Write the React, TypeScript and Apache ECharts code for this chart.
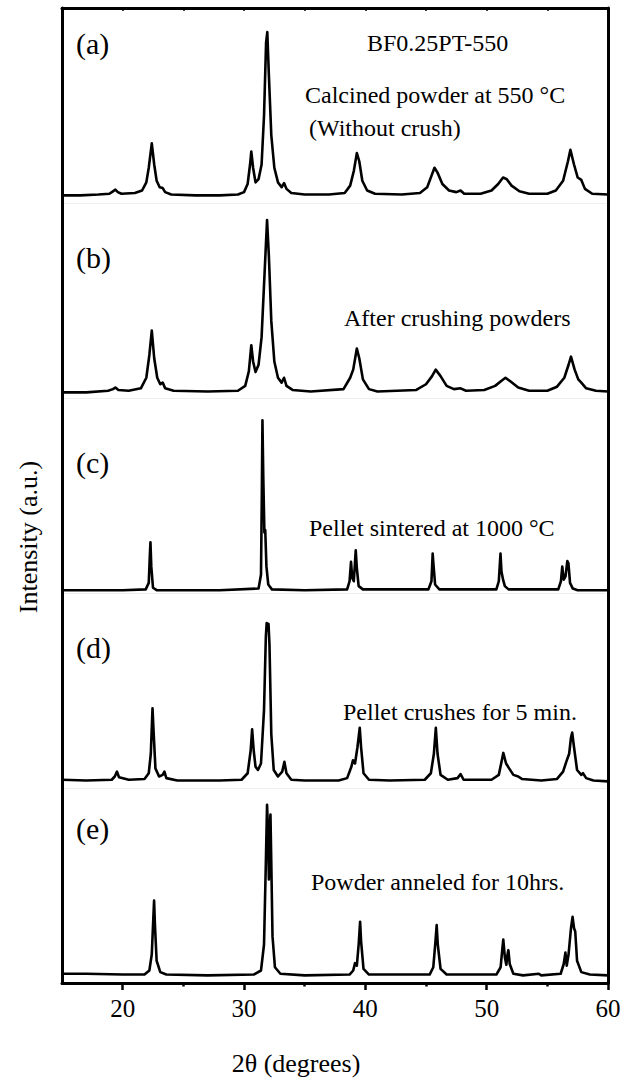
import React, { useEffect, useRef } from "react";
import * as echarts from "echarts";

// 2θ range and tick values
const X_MIN = 15;
const X_MAX = 60;
const MAJOR_TICKS = [20, 30, 40, 50, 60];
const MINOR_TICKS = [25, 35, 45, 55];
const TOP_TICKS = [20, 25, 30, 35, 40, 45, 50, 55];

// Panel labels and annotations
const PANEL_LABELS = ["(a)", "(b)", "(c)", "(d)", "(e)"];
const SAMPLE_NAME = "BF0.25PT-550";
const ANNOTATIONS = [
  ["Calcined powder at 550 °C", " (Without crush)"],
  ["After crushing powders"],
  ["Pellet sintered at 1000 °C"],
  ["Pellet crushes for 5 min."],
  ["Powder anneled for 10hrs."],
];

// XRD patterns, [2θ, intensity a.u.]
const patternA = [
  [15, 1], [16.5, 1], [18.0, 1.5], [18.9, 2], [19.2, 3.5], [19.4, 4.5], [19.6, 3], [19.9, 2], [21.0, 2.5], [21.6, 4],
  [21.95, 9], [22.15, 18], [22.4, 33], [22.6, 20], [22.8, 10], [23.05, 6], [23.3, 5.5], [23.5, 3], [24.0, 1.5], [26, 1],
  [28, 1], [29.5, 1.5], [30.0, 3], [30.3, 8], [30.5, 20], [30.6, 28], [30.75, 18], [30.95, 9], [31.2, 11], [31.45, 20],
  [31.65, 50], [31.82, 95], [31.92, 101.5], [32.05, 75], [32.25, 38], [32.5, 18], [32.8, 9], [33.1, 6], [33.3, 8.6], [33.5, 5],
  [33.9, 2.5], [35, 1.5], [37, 1.5], [38.3, 2.5], [38.75, 7], [39.05, 16], [39.3, 27], [39.5, 22], [39.75, 10], [40.15, 4],
  [40.8, 2], [43, 1.5], [44.5, 2.5], [45.1, 6], [45.45, 13], [45.7, 18], [45.95, 15], [46.35, 8], [46.9, 4], [47.5, 3],
  [47.85, 4], [48.15, 2], [49.5, 2], [50.4, 4], [50.95, 8], [51.35, 12], [51.65, 11], [52.05, 7], [52.7, 3.5], [53.5, 2],
  [55, 2], [55.7, 4], [56.3, 10], [56.7, 22], [56.9, 29], [57.2, 20], [57.5, 12], [57.8, 10.5], [58.1, 5], [58.7, 2],
  [60, 1.5],
];
const patternB = [
  [15, 1], [17, 1], [18.8, 2], [19.2, 3], [19.4, 4], [19.65, 2.5], [20.5, 2], [21.5, 3.5], [21.95, 10], [22.2, 24],
  [22.4, 39], [22.6, 22], [22.85, 10], [23.1, 6], [23.3, 7], [23.5, 3.5], [24.2, 2], [27, 1.5], [29.5, 2], [30.1, 5],
  [30.4, 14], [30.6, 30], [30.75, 20], [30.95, 13.5], [31.2, 18], [31.45, 35], [31.7, 75], [31.9, 107], [32.05, 85], [32.25, 45],
  [32.5, 20], [32.8, 10], [33.1, 7], [33.3, 10], [33.5, 5], [34, 2.5], [35.5, 1.5], [38.2, 3], [38.75, 10], [39.0, 15],
  [39.3, 28], [39.5, 22], [39.8, 9], [40.3, 3], [41, 1.5], [44.2, 2.5], [45.0, 6], [45.5, 11], [45.8, 15], [46.2, 11],
  [46.7, 5], [47.3, 3], [47.85, 3.5], [48.3, 2], [49.8, 2.5], [50.7, 5], [51.2, 8], [51.55, 10], [52.0, 7.5], [52.6, 4],
  [53.5, 2], [55, 2], [55.8, 4.5], [56.4, 10], [56.75, 18], [56.95, 23], [57.25, 15], [57.55, 9], [57.8, 7], [58.2, 3.5],
  [59, 2], [60, 1.5],
];
const patternC = [
  [15, 0.5], [20, 0.5], [21.9, 1], [22.15, 5], [22.24, 22], [22.29, 30], [22.36, 15], [22.5, 2], [22.8, 0.5], [28, 0.5],
  [31.2, 1.5], [31.4, 10], [31.47, 60], [31.52, 105], [31.59, 70], [31.68, 36], [31.75, 37.5], [31.85, 15], [32.0, 4], [32.3, 1],
  [35, 0.5], [38.5, 1], [38.7, 6], [38.82, 18], [38.92, 8], [39.05, 6], [39.15, 18], [39.21, 25], [39.3, 14], [39.45, 3],
  [39.8, 1], [45.2, 1], [45.45, 6], [45.55, 23], [45.62, 16], [45.75, 4], [46.1, 1], [50.8, 1], [51.0, 6], [51.14, 23],
  [51.22, 12], [51.35, 7], [51.5, 3], [51.8, 1], [55.9, 1], [56.12, 6], [56.23, 15], [56.35, 7], [56.5, 9], [56.65, 18.5],
  [56.74, 17], [56.87, 5], [57.1, 1.5], [57.5, 0.5], [60, 0.5],
];
const patternD = [
  [15, 2], [17, 1.5], [19.1, 2], [19.35, 4], [19.53, 7], [19.7, 3.5], [20.5, 2], [21.8, 2.5], [22.15, 6], [22.32, 18],
  [22.46, 46], [22.56, 30], [22.7, 9], [23.0, 4], [23.3, 5], [23.44, 7], [23.6, 3], [24.5, 1.5], [28, 1.5], [29.8, 2],
  [30.3, 6], [30.55, 20], [30.67, 33], [30.8, 20], [30.95, 10], [31.15, 8], [31.4, 12], [31.65, 45], [31.8, 90], [31.87, 98.5],
  [31.95, 94], [32.02, 98], [32.1, 85], [32.25, 30], [32.45, 8], [32.8, 4], [33.15, 7], [33.33, 13], [33.5, 6], [33.9, 2],
  [35, 1.5], [37.8, 1.5], [38.5, 3], [38.85, 10], [38.98, 14], [39.15, 12], [39.35, 22], [39.54, 34], [39.65, 22], [39.85, 6],
  [40.3, 2], [42, 1.5], [44.9, 2], [45.4, 6], [45.65, 18], [45.81, 34], [45.95, 18], [46.2, 5], [46.8, 2], [47.6, 3],
  [47.85, 5.5], [48.1, 2], [50.4, 2], [51.0, 5], [51.25, 14], [51.37, 18.5], [51.6, 12], [51.85, 9], [52.2, 5], [52.6, 4],
  [52.9, 2.5], [54.5, 1.5], [55.8, 2.5], [56.3, 7], [56.56, 13], [56.8, 18], [56.95, 28], [57.05, 31], [57.2, 22], [57.45, 8],
  [57.8, 5], [57.94, 6], [58.2, 3], [58.8, 1.5], [60, 1],
];
const patternE = [
  [15, 2], [17, 2], [20, 1.5], [21.8, 1.5], [22.2, 4], [22.4, 14], [22.52, 35], [22.59, 47], [22.66, 32], [22.8, 10],
  [23.1, 3], [23.6, 1.5], [27, 1], [30.8, 1.5], [31.4, 4], [31.65, 20], [31.8, 70], [31.9, 106], [31.98, 90], [32.05, 60],
  [32.12, 90], [32.18, 100], [32.25, 70], [32.35, 25], [32.55, 6], [33, 2], [35, 1], [38.7, 1.5], [39.0, 4], [39.15, 8.5],
  [39.3, 7], [39.45, 20], [39.57, 34], [39.65, 22], [39.85, 5], [40.3, 1.5], [45.3, 1.5], [45.6, 6], [45.78, 22], [45.88, 32],
  [45.97, 20], [46.2, 5], [46.7, 1.5], [50.8, 1.5], [51.15, 6], [51.3, 18], [51.37, 23], [51.5, 12], [51.62, 7.5], [51.72, 14],
  [51.79, 16.5], [51.9, 8], [52.2, 2], [53, 1], [54.3, 2], [54.5, 1], [56.1, 2], [56.35, 8], [56.49, 15], [56.6, 7],
  [56.75, 14], [56.95, 30], [57.08, 37], [57.2, 30], [57.3, 28], [57.45, 10], [57.8, 3], [58.5, 1.5], [60, 1],
];
const PATTERNS = [patternA, patternB, patternC, patternD, patternE];

const FONT = "'Liberation Serif', 'Times New Roman', serif";

export default function App() {
  const ref = useRef<HTMLDivElement>(null);

  useEffect(() => {
    document.body.style.margin = "0";
    if (!ref.current) return;
    const chart = echarts.init(ref.current, undefined, { renderer: "svg" });

    const LEFT = 62;
    const RIGHT_PX = 608;
    const TOP = 8;
    const BOTTOM_PX = 983;
    const panelH = (BOTTOM_PX - TOP) / PATTERNS.length;
    const PX_PER_UNIT = 1.625;
    // distance (px) between each panel's zero line and the panel's lower edge
    const baseLift = [6, 4, 2, 5, 6];

    const grids: any[] = [];
    const xAxes: any[] = [];
    const yAxes: any[] = [];
    const series: any[] = [];

    PATTERNS.forEach((data, i) => {
      grids.push({
        left: LEFT,
        width: RIGHT_PX - LEFT,
        top: TOP + panelH * i,
        height: panelH,
      });
      const yMin = -baseLift[i] / PX_PER_UNIT;
      xAxes.push({ type: "value", gridIndex: i, min: X_MIN, max: X_MAX, show: false });
      yAxes.push({ type: "value", gridIndex: i, min: yMin, max: yMin + panelH / PX_PER_UNIT, show: false });
      series.push({
        type: "line",
        xAxisIndex: i,
        yAxisIndex: i,
        data,
        showSymbol: false,
        symbol: "none",
        lineStyle: { color: "#000", width: 2.6, join: "round" },
        silent: true,
      });
    });

    // Frame grid
    const fg = PATTERNS.length;
    grids.push({ left: LEFT, width: RIGHT_PX - LEFT, top: TOP, height: BOTTOM_PX - TOP });
    const axisLine = { show: true, lineStyle: { color: "#000", width: 3 } };
    xAxes.push({
      type: "value",
      gridIndex: fg,
      position: "bottom",
      min: X_MIN,
      max: X_MAX,
      axisLine,
      splitLine: { show: false },
      axisTick: { show: true, inside: false, length: 7, customValues: MAJOR_TICKS, lineStyle: { color: "#000", width: 2.5 } },
      axisLabel: {
        show: true,
        customValues: MAJOR_TICKS,
        margin: 13,
        fontFamily: FONT,
        fontSize: 25,
        color: "#000",
      },
    });
    xAxes.push({
      type: "value",
      gridIndex: fg,
      position: "bottom",
      min: X_MIN,
      max: X_MAX,
      axisLine: { show: false },
      splitLine: { show: false },
      axisTick: { show: true, inside: false, length: 3.5, customValues: MINOR_TICKS, lineStyle: { color: "#000", width: 2.5 } },
      axisLabel: { show: false },
    });
    xAxes.push({
      type: "value",
      gridIndex: fg,
      position: "top",
      min: X_MIN,
      max: X_MAX,
      axisLine,
      splitLine: { show: false },
      axisTick: { show: true, inside: true, length: 3, customValues: TOP_TICKS, lineStyle: { color: "#000", width: 1.5 } },
      axisLabel: { show: false },
    });
    yAxes.push({
      type: "value",
      gridIndex: fg,
      position: "left",
      min: 0,
      max: 1,
      axisLine,
      splitLine: { show: false },
      axisTick: { show: false },
      axisLabel: { show: false },
    });
    yAxes.push({
      type: "value",
      gridIndex: fg,
      position: "right",
      min: 0,
      max: 1,
      axisLine,
      splitLine: { show: false },
      axisTick: { show: false },
      axisLabel: { show: false },
    });

    const graphic: any[] = [];
    // faint panel separators
    for (let i = 1; i < PATTERNS.length; i++) {
      const y = Math.round(TOP + panelH * i) + 0.5;
      graphic.push({
        type: "line",
        shape: { x1: LEFT + 2, y1: y, x2: RIGHT_PX - 2, y2: y },
        style: { stroke: "#eeeeee", lineWidth: 1 },
        silent: true,
        z: 0,
      });
    }
    const txt = (text: string, x: number, y: number, size: number, align = "left", extra: any = {}) => ({
      type: "text",
      x,
      y,
      style: {
        text,
        fontFamily: FONT,
        fontSize: size,
        fill: "#000",
        align,
        verticalAlign: "middle",
      },
      silent: true,
      z: 10,
      ...extra,
    });
    const labelYs = [43, 257, 462, 647, 828];
    PANEL_LABELS.forEach((l, i) => graphic.push(txt(l, 76, labelYs[i], 30)));
    graphic.push(txt(SAMPLE_NAME, 367, 43, 24));
    graphic.push(txt(ANNOTATIONS[0][0], 305, 95, 24));
    graphic.push(txt(ANNOTATIONS[0][1], 303, 128, 24));
    graphic.push(txt(ANNOTATIONS[1][0], 344, 318, 24));
    graphic.push(txt(ANNOTATIONS[2][0], 309, 528, 24));
    graphic.push(txt(ANNOTATIONS[3][0], 343, 712, 24));
    graphic.push(txt(ANNOTATIONS[4][0], 311, 882, 24));
    // axis names
    graphic.push(txt("Intensity (a.u.)", 28, 537, 26, "center", { rotation: Math.PI / 2 }));
    graphic.push(txt("2θ (degrees)", 296, 1063, 26, "center"));

    chart.setOption({
      animation: false,
      backgroundColor: "#fff",
      grid: grids,
      xAxis: xAxes,
      yAxis: yAxes,
      series,
      graphic,
    });

    return () => chart.dispose();
  }, []);

  return (
    <div
      ref={ref}
      style={{ position: "absolute", left: 0, top: 0, width: 626, height: 1082 }}
    />
  );
}
